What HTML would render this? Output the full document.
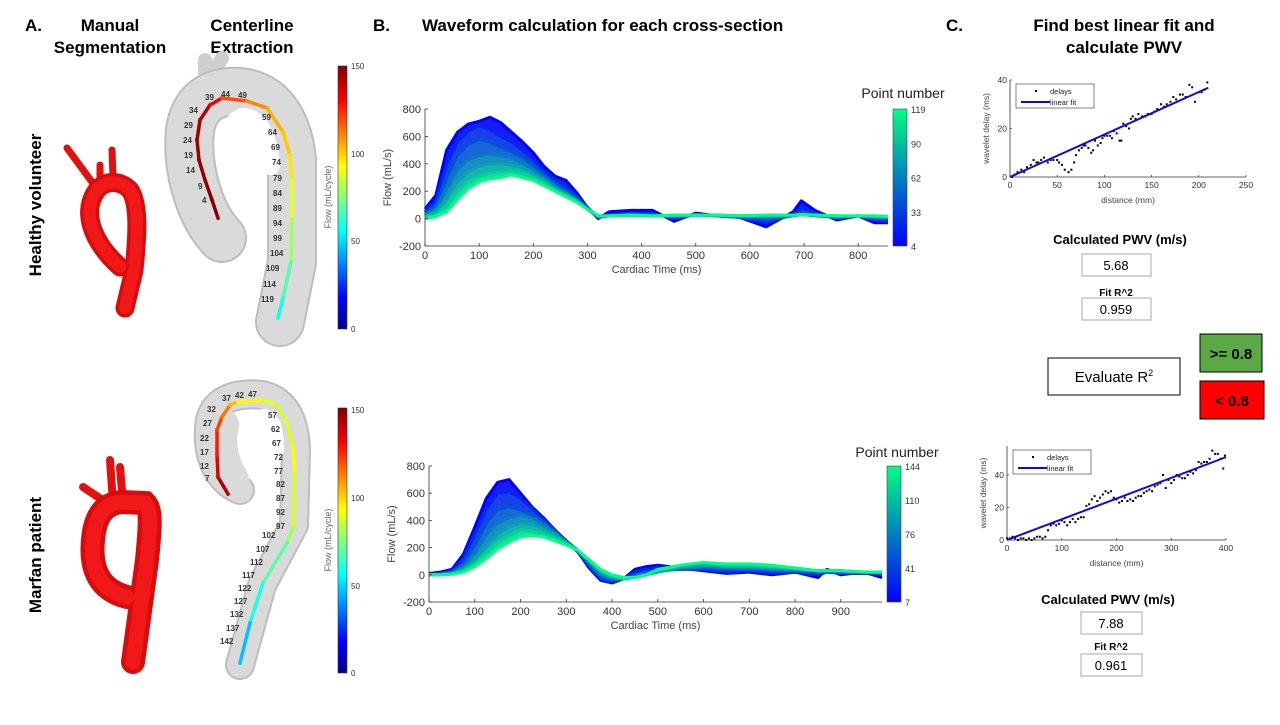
<!DOCTYPE html>
<html><head><meta charset="utf-8">
<style>
body{margin:0;background:#fff;width:1280px;height:720px;overflow:hidden;font-family:"Liberation Sans",Arial,sans-serif;}
svg text{font-family:"Liberation Sans",Arial,sans-serif;}
</style></head>
<body>
<svg id="fig" width="1280" height="720" viewBox="0 0 1280 720" xmlns="http://www.w3.org/2000/svg">
<defs>
<linearGradient id="jet" x1="0" y1="1" x2="0" y2="0">
<stop offset="0" stop-color="#00008f"/><stop offset="0.12" stop-color="#0000ff"/><stop offset="0.37" stop-color="#00ffff"/><stop offset="0.62" stop-color="#ffff00"/><stop offset="0.87" stop-color="#ff0000"/><stop offset="1" stop-color="#800000"/>
</linearGradient>
<linearGradient id="win" x1="0" y1="1" x2="0" y2="0">
<stop offset="0" stop-color="#0000ff"/><stop offset="1" stop-color="#00ff80"/>
</linearGradient>
</defs>
<!-- headers -->
<g font-weight="bold" font-size="17" fill="#000">
<text x="25" y="31">A.</text>
<text x="110" y="31" text-anchor="middle">Manual</text>
<text x="110" y="53" text-anchor="middle">Segmentation</text>
<text x="252" y="31" text-anchor="middle">Centerline</text>
<text x="252" y="53" text-anchor="middle">Extraction</text>
<text x="373" y="31">B.</text>
<text x="422" y="31">Waveform calculation for each cross-section</text>
<text x="946" y="31">C.</text>
<text x="1124" y="31" text-anchor="middle">Find best linear fit and</text>
<text x="1124" y="53" text-anchor="middle">calculate PWV</text>
<text transform="translate(41,205) rotate(-90)" text-anchor="middle">Healthy volunteer</text>
<text transform="translate(41,555) rotate(-90)" text-anchor="middle">Marfan patient</text>
</g>
<!-- red aortas -->
<g fill="none" stroke-linecap="round">
<path d="M67,148 L92,182 M112,150 L113,178 M100,165 L100,178" stroke="#e41010" stroke-width="7"/>
<path d="M120,267 C90,240 82,210 97,190 C105,180 120,180 130,190 C140,205 137,240 134,270 L125,308" stroke="#d80c0c" stroke-width="19"/>
<path d="M120,267 C90,240 82,210 97,190 C105,180 120,180 130,190 C140,205 137,240 134,270 L125,308" stroke="#f01818" stroke-width="12"/>
</g>
<g fill="none" stroke-linecap="round">
<path d="M110,460 L113,503 M120,467 L123,503 M83,487 L107,503" stroke="#e41010" stroke-width="8"/>
<path d="M127,597 C100,590 90,570 93,540 C95,515 105,503 122,502 L145,503 C152,510 150,530 147,560 L133,662" stroke="#d80c0c" stroke-width="24"/>
<path d="M127,597 C100,590 90,570 93,540 C95,515 105,503 122,502 L145,503 C152,510 150,530 147,560 L133,662" stroke="#f01818" stroke-width="15"/>
</g>
<!-- gray aortas -->
<g fill="none" stroke-linecap="round" stroke-linejoin="round">
<path d="M205,72 L205,60 M215,70 L222,58" stroke="#cfcfcf" stroke-width="14"/>
<path d="M222,238 C200,215 186,170 190,130 C195,100 215,90 240,92 C270,95 288,120 292,160 L292,262 L280,322" stroke="#bdbdbd" stroke-width="50"/>
<path d="M222,238 C200,215 186,170 190,130 C195,100 215,90 240,92 C270,95 288,120 292,160 L292,262 L280,322" stroke="#dadada" stroke-width="46"/>
<path d="M230,170 C225,140 232,118 245,118 C260,120 268,140 270,165" stroke="#fff" stroke-width="20"/>
</g>
<g fill="none" stroke-linecap="round" stroke-linejoin="round">
<path d="M240,490 C215,480 205,450 210,420 C215,400 235,392 262,395 C285,400 295,420 296,450 L294,525 L262,585 L240,665" stroke="#bdbdbd" stroke-width="30"/>
<path d="M240,490 C215,480 205,450 210,420 C215,400 235,392 262,395 C285,400 295,420 296,450 L294,525 L262,585 L240,665" stroke="#dadada" stroke-width="26"/>
<path d="M232,480 C220,460 218,440 222,425" stroke="#dadada" stroke-width="34"/>
<path d="M250,460 C245,430 252,415 265,415 C275,418 278,430 278,450" stroke="#fff" stroke-width="12"/>
</g>
<g id="cl"></g>
<g id="cllabels" font-size="8" font-weight="bold" fill="#333"></g>
<!-- flow colorbars -->
<g font-size="8" fill="#333">
<rect x="338" y="66" width="9" height="263" fill="url(#jet)" stroke="#333" stroke-width="0.6"/>
<text x="351" y="69">150</text><text x="351" y="157">100</text><text x="351" y="244">50</text><text x="351" y="332">0</text>
<text transform="translate(331,197) rotate(-90)" text-anchor="middle" font-size="9" fill="#666">Flow (mL/cycle)</text>
</g>
<g font-size="8" fill="#333">
<rect x="338" y="408" width="9" height="265" fill="url(#jet)" stroke="#333" stroke-width="0.6"/>
<text x="351" y="413">150</text><text x="351" y="501">100</text><text x="351" y="589">50</text><text x="351" y="676">0</text>
<text transform="translate(331,540) rotate(-90)" text-anchor="middle" font-size="9" fill="#666">Flow (mL/cycle)</text>
</g>
<g id="w1"></g>
<g id="w2"></g>
<g id="s1"></g>
<g id="s2"></g>
<!-- results -->
<g fill="#000">
<text x="1120" y="244" text-anchor="middle" font-size="13" font-weight="bold">Calculated PWV (m/s)</text>
<rect x="1082" y="254" width="69" height="22" fill="#fff" stroke="#aaa"/>
<text x="1116" y="270" text-anchor="middle" font-size="13">5.68</text>
<text x="1116" y="296" text-anchor="middle" font-size="10" font-weight="bold">Fit R^2</text>
<rect x="1082" y="298" width="69" height="22" fill="#fff" stroke="#aaa"/>
<text x="1116" y="314" text-anchor="middle" font-size="13">0.959</text>
<rect x="1048" y="358" width="132" height="37" fill="#fff" stroke="#000"/>
<text x="1114" y="382" text-anchor="middle" font-size="15">Evaluate R<tspan font-size="9" dy="-6">2</tspan></text>
<rect x="1200" y="334" width="62" height="38" fill="#5aa846" stroke="#000"/>
<text x="1231" y="359" text-anchor="middle" font-size="15" font-weight="bold">&gt;= 0.8</text>
<rect x="1200" y="381" width="64" height="38" fill="#ff0000" stroke="#000"/>
<text x="1232" y="406" text-anchor="middle" font-size="15" font-weight="bold">&lt; 0.8</text>
<text x="1108" y="604" text-anchor="middle" font-size="13" font-weight="bold">Calculated PWV (m/s)</text>
<rect x="1081" y="612" width="61" height="22" fill="#fff" stroke="#aaa"/>
<text x="1111" y="628" text-anchor="middle" font-size="13">7.88</text>
<text x="1111" y="650" text-anchor="middle" font-size="10" font-weight="bold">Fit R^2</text>
<rect x="1081" y="654" width="61" height="22" fill="#fff" stroke="#aaa"/>
<text x="1111" y="670" text-anchor="middle" font-size="13">0.961</text>
</g>
</svg>
<script>
// ---------- waveform data (healthy) ----------
const times1 = [0,20,40,60,80,100,120,140,160,180,200,220,240,260,280,300,320,340,380,420,460,500,540,580,630,680,695,720,760,800,830,855];
const wA1 = [70,170,500,630,690,710,740,700,630,560,480,380,310,280,190,80,0,50,60,60,-20,40,20,10,-60,50,130,60,-10,20,-30,-30];
const wB1 = [50,130,400,560,640,680,650,600,560,500,430,350,290,240,170,80,10,30,40,40,0,30,20,10,-30,30,80,40,0,20,-10,-20];
const wC1 = [40,100,300,460,540,580,560,520,490,450,390,320,260,210,150,70,10,20,30,30,10,30,20,10,-10,20,40,30,10,20,0,0];
const wD1 = [30,70,220,360,430,460,470,460,440,410,360,300,240,190,140,70,10,20,30,20,20,25,20,20,10,20,30,20,10,20,10,10];
const wE1 = [20,50,150,270,340,380,400,400,390,370,330,280,220,180,130,70,20,20,25,20,20,25,25,20,20,20,30,25,15,20,15,10];
const wF1 = [10,30,90,200,270,310,330,340,350,330,300,260,210,170,130,70,20,20,25,20,25,25,25,20,25,25,30,25,20,20,20,15];
const wG1 = [0,15,50,140,220,270,290,300,320,300,280,240,200,160,120,70,20,20,25,20,25,25,25,20,25,25,30,25,20,20,20,15];
const xTicks1 = [0,100,200,300,400,500,600,700,800];
const yTicks = [-200,0,200,400,600,800];
const cbTicks1 = ["119","90","62","33","4"];
// ---------- waveform data (marfan) ----------
const times2 = [0,25,50,75,100,125,150,175,200,225,250,275,300,325,350,375,400,425,450,475,500,550,600,650,700,750,800,850,870,900,950,990];
const wA2 = [10,20,40,150,350,560,680,700,600,500,420,330,250,170,50,-40,-60,-30,40,60,70,50,30,10,20,0,20,-20,40,0,20,-20];
const wB2 = [0,10,30,120,300,480,600,610,560,490,410,330,250,170,60,-30,-50,-30,20,40,50,40,40,20,30,10,20,0,20,10,10,0];
const wC2 = [0,5,20,80,220,380,480,500,480,440,390,320,250,180,70,-20,-40,-30,0,20,30,40,50,40,40,30,30,20,30,20,20,10];
const wD2 = [0,5,15,60,160,290,380,420,440,420,370,310,240,180,90,0,-30,-30,-10,10,20,50,60,50,50,40,40,30,30,30,20,20];
const wE2 = [0,0,10,40,110,210,300,350,380,370,340,300,240,180,100,20,-20,-30,-20,0,20,60,70,60,60,50,40,30,30,30,20,20];
const wF2 = [0,0,5,30,80,160,240,290,330,320,300,270,230,180,110,30,-10,-30,-20,0,30,70,90,70,70,60,50,30,30,30,20,20];
const wG2 = [0,0,5,20,60,120,190,240,280,290,280,250,220,180,110,40,0,-20,-20,0,40,70,90,80,80,70,50,30,30,30,20,20];
const xTicks2 = [0,100,200,300,400,500,600,700,800,900];
const cbTicks2 = ["144","110","76","41","7"];
// ---------- scatter data ----------
const dist1 = [2,5,8,12,15,18,22,25,28,30,33,36,40,43,46,50,52,55,58,62,65,68,70,73,76,78,80,83,86,88,90,93,96,98,100,103,106,108,110,113,116,118,120,123,126,128,130,133,136,140,143,146,150,153,156,160,163,166,170,173,176,180,183,186,190,193,196,200,203,206,209];
const delay1 = [0,1,2,3,2,4,5,7,6,6,7,8,6,7,7,7,6,5,3,2,3,6,9,11,12,13,13,12,10,11,15,13,14,16,17,17,17,16,19,18,15,15,22,21,20,24,25,24,26,25,25,26,26,27,28,30,29,30,31,33,32,34,34,33,38,37,31,35,35,36,39];
const fit1 = [0,0,210,36.8];
const sxTicks1 = [0,50,100,150,200,250];
const syTicks1 = [0,20,40];
const dist2 = [0,5,10,15,20,25,30,35,40,45,50,55,60,65,70,75,80,85,90,95,100,105,110,115,120,125,130,135,140,145,150,155,160,165,170,175,180,185,190,195,200,205,210,215,220,225,230,235,240,245,250,255,260,265,270,275,280,285,290,295,300,305,310,315,320,325,330,335,340,345,350,355,360,365,370,375,380,385,390,395,398];
const delay2 = [1,1,2,1,0,1,1,0,1,0,1,2,2,1,2,6,9,10,9,10,12,11,9,11,13,11,13,14,14,21,22,25,27,24,26,28,30,29,30,26,25,23,24,26,24,25,24,26,27,27,29,30,31,30,33,34,35,40,32,37,35,37,40,39,38,38,40,42,41,43,48,47,48,48,50,55,53,53,50,44,52];
const fit2 = [0,0,400,51];
const sxTicks2 = [0,100,200,300,400];
const syTicks2 = [0,20,40];

const NS="http://www.w3.org/2000/svg";
function mk(tag,parent,attrs){const e=document.createElementNS(NS,tag);for(const k in attrs)e.setAttribute(k,attrs[k]);parent.appendChild(e);return e;}
function txt(parent,x,y,s,attrs){const e=mk('text',parent,attrs);e.setAttribute('x',x);e.setAttribute('y',y);e.textContent=s;return e;}
function winter(t){const g=Math.round(255*t),b=Math.round(255-127*t);return `rgb(0,${g},${b})`;}

function waveChart(gid,times,series,xTicks,xmax,L,R,T,B,x0,cbX,cbTicks,titleY){
  const g=document.getElementById(gid);
  const ymin=-200,ymax=800;
  const xs=v=>x0+(v/100)*((R-x0)/(xmax/100));
  const X=v=>x0+(v-0)*(R-x0)/xmax;
  const Y=v=>B-(v-ymin)*(B-T)/(ymax-ymin);
  // fills between consecutive series
  for(let s=0;s<series.length-1;s++){
    const a=series[s],b=series[s+1];
    let d='M'+times.map((t,i)=>X(t)+','+Y(a[i])).join(' L');
    for(let i=times.length-1;i>=0;i--)d+=' L'+X(times[i])+','+Y(b[i]);
    const p=mk('path',g,{d:d+'Z',fill:winter(s/(series.length-1)),opacity:'0.9'});
    
    
  }
  series.forEach((arr,s)=>{
    const p=mk('polyline',g,{points:times.map((t,i)=>X(t)+','+Y(arr[i])).join(' '),fill:'none',stroke:winter(s/(series.length-1)),'stroke-width':'3','stroke-linejoin':'round'});
    
    
  });
  // axes
  mk('path',g,{d:`M${L},${T} L${L},${B} L${R},${B}`,fill:'none',stroke:'#333','stroke-width':'0.8'});
  xTicks.forEach(v=>{mk('line',g,{x1:X(v),x2:X(v),y1:B,y2:B-3,stroke:'#333','stroke-width':'0.8'});
    const t=txt(g,X(v),B+13,String(v),{'font-size':'11','text-anchor':'middle',fill:'#333'});
    });
  yTicks.forEach(v=>{mk('line',g,{x1:L,x2:L+3,y1:Y(v),y2:Y(v),stroke:'#333','stroke-width':'0.8'});
    const t=txt(g,L-4,Y(v)+4,String(v),{'font-size':'11','text-anchor':'end',fill:'#333'});
    });
  const xt=txt(g,(L+R)/2,B+27,'Cardiac Time (ms)',{'font-size':'11','text-anchor':'middle',fill:'#444'});
  
  const yt=txt(g,0,0,'Flow (mL/s)',{'font-size':'11','text-anchor':'middle',fill:'#444',transform:`translate(${L-34},${(T+B)/2}) rotate(-90)`});
  
  // colorbar
  const cb=mk('rect',g,{x:cbX,y:T,width:14,height:B-T,fill:'url(#win)',stroke:'#444','stroke-width':'0.6'});
  
  cbTicks.forEach((s,i)=>{const yy=T+i*(B-T)/(cbTicks.length-1);
    txt(g,cbX+18,yy+4,s,{'font-size':'9',fill:'#333','font-family':'Liberation Serif, serif'});});
  const ct=txt(g,cbX+10,titleY,'Point number',{'font-size':'14','text-anchor':'middle',fill:'#222'});
  
}
waveChart('w1',times1,[wA1,wB1,wC1,wD1,wE1,wF1,wG1],xTicks1,855,425,888,109,246,425,893,cbTicks1,98);
waveChart('w2',times2,[wA2,wB2,wC2,wD2,wE2,wF2,wG2],xTicks2,990,429,882,466,602,429,887,cbTicks2,457);

function scatter(gid,xsA,ysA,fit,xt,yt,xmax,ymax,L,R,T,B,ytop){
  const g=document.getElementById(gid);
  const X=v=>L+v*(R-L)/xmax, Y=v=>B-v*(B-ytop)/ymax;
  mk('path',g,{d:`M${L},${T} L${L},${B} L${R},${B}`,fill:'none',stroke:'#333','stroke-width':'0.8'});
  xsA.forEach((v,i)=>{const c=mk('rect',g,{x:X(v)-1,y:Y(ysA[i])-1,width:2,height:2,fill:'#000'});
    });
  const fl=mk('line',g,{x1:X(fit[0]),y1:Y(fit[1]),x2:X(fit[2]),y2:Y(fit[3]),stroke:'#0a0ae6','stroke-width':'2'});
  
  xt.forEach(v=>{mk('line',g,{x1:X(v),x2:X(v),y1:B,y2:B-2,stroke:'#333','stroke-width':'0.7'});
    txt(g,X(v),B+11,String(v),{'font-size':'8.5','text-anchor':'middle',fill:'#333'});});
  yt.forEach(v=>{mk('line',g,{x1:L,x2:L+2,y1:Y(v),y2:Y(v),stroke:'#333','stroke-width':'0.7'});
    txt(g,L-3,Y(v)+3,String(v),{'font-size':'8.5','text-anchor':'end',fill:'#333'});});
  txt(g,(L+R)/2,B+26,'distance (mm)',{'font-size':'8.5','text-anchor':'middle',fill:'#444'});
  txt(g,0,0,'wavelet delay (ms)',{'font-size':'8.5','text-anchor':'middle',fill:'#444',transform:`translate(${L-21},${(T+B)/2}) rotate(-90)`});
  const lg=mk('g',g,{});
  
  mk('rect',lg,{x:L+6,y:T+4,width:78,height:24,fill:'#fff',stroke:'#333','stroke-width':'0.6'});
  mk('rect',lg,{x:L+25,y:T+10,width:2,height:2,fill:'#000'});
  txt(lg,L+40,T+14,'delays',{'font-size':'7.5',fill:'#222'});
  mk('line',lg,{x1:L+11,x2:L+40,y1:T+22,y2:T+22,stroke:'#0a0ae6','stroke-width':'2'});
  txt(lg,L+40,T+25,'linear fit',{'font-size':'7.5',fill:'#222'});
}
scatter('s1',dist1,delay1,fit1,sxTicks1,syTicks1,250,40,1010,1246,80,177,80);
scatter('s2',dist2,delay2,fit2,sxTicks2,syTicks2,400,40,1007,1226,446,540,475);

// centerlines
const cl1=[[218,218,150],[212,200,148],[205,180,148],[199,160,146],[197,140,146],[200,120,144],[210,105,140],[222,98,125],[247,101,115],[267,108,108],[283,132,103],[290,155,100],[292,180,95],[292,220,85],[291,262,75],[283,298,62],[278,318,55]];
const cl2=[[228,494,146],[218,477,140],[217,455,130],[217,430,125],[222,417,118],[230,405,110],[238,402,98],[263,400,92],[277,405,88],[287,423,85],[293,447,93],[295,473,92],[293,527,85],[287,543,75],[263,583,65],[250,623,55],[240,663,40]];
function jet(v){const t=v/150;const r=Math.max(0,Math.min(1,1.5-Math.abs(4*t-3))),g=Math.max(0,Math.min(1,1.5-Math.abs(4*t-2))),b=Math.max(0,Math.min(1,1.5-Math.abs(4*t-1)));return `rgb(${Math.round(r*255)},${Math.round(g*255)},${Math.round(b*255)})`;}
const clg=document.getElementById('cl');
[cl1,cl2].forEach(pts=>{for(let i=0;i<pts.length-1;i++){const a=pts[i],b=pts[i+1];
  const l=mk('line',clg,{x1:a[0],y1:a[1],x2:b[0],y2:b[1],stroke:jet((a[2]+b[2])/2),'stroke-width':'3.5','stroke-linecap':'square'});
  }});
const lab1=[["39",205,100],["44",221,97],["49",238,98],["34",189,113],["29",184,128],["24",183,143],["19",184,158],["14",186,173],["9",198,189],["4",202,203],["59",262,120],["64",268,135],["69",271,150],["74",272,165],["79",273,181],["84",273,196],["89",273,211],["94",273,226],["99",273,241],["104",270,256],["109",266,271],["114",263,287],["119",261,302]];
const lab2=[["37",222,401],["42",235,398],["47",248,397],["32",207,412],["27",203,426],["22",200,441],["17",200,455],["12",200,469],["7",205,481],["57",268,418],["62",271,432],["67",272,446],["72",274,460],["77",274,474],["82",276,487],["87",276,501],["92",276,515],["97",276,529],["102",262,538],["107",256,552],["112",250,565],["117",242,578],["122",238,591],["127",234,604],["132",230,617],["137",226,631],["142",220,644]];
const lg2=document.getElementById('cllabels');
lab1.concat(lab2).forEach(l=>{const t=txt(lg2,l[1],l[2],l[0],{});
  });
</script>
</body></html>
